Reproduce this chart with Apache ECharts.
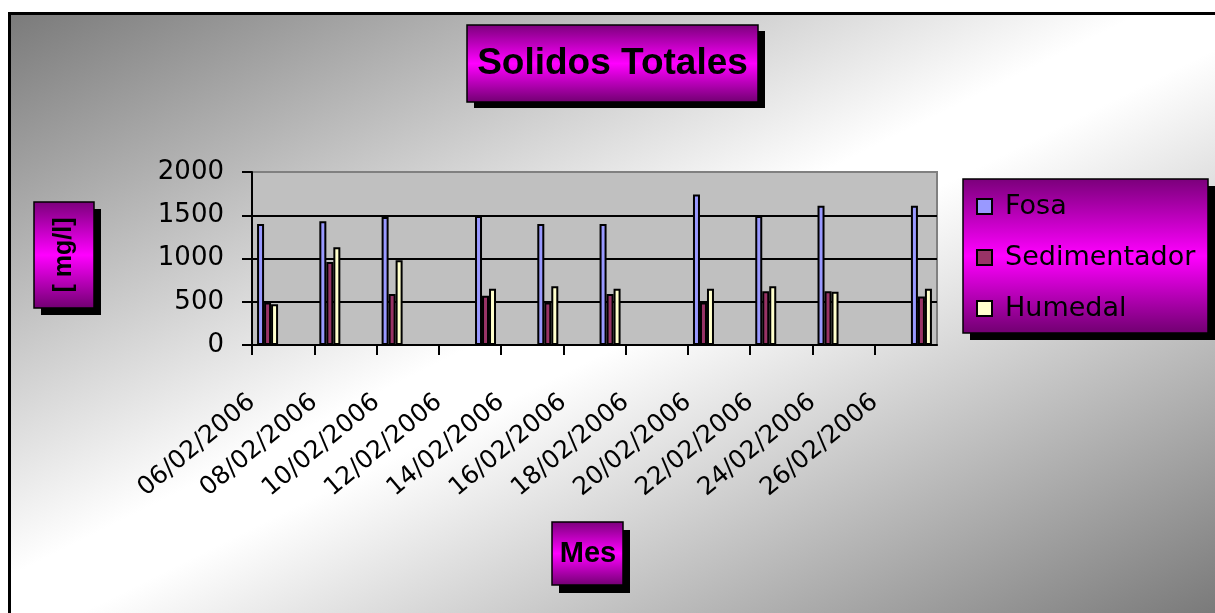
<!DOCTYPE html>
<html>
<head>
<meta charset="utf-8">
<title>Solidos Totales</title>
<script src="https://cdn.jsdelivr.net/npm/echarts@6/dist/echarts.min.js"></script>
<style>
  html, body { margin: 0; padding: 0; background: #fff; }
  #chart { width: 1215px; height: 613px; }
</style>
</head>
<body>
<div id="chart"></div>
<script>
// Sampling dates and measured total solids [mg/l]
const sampleDates = ['06/02/2006', '08/02/2006', '10/02/2006', '13/02/2006', '15/02/2006',
                     '17/02/2006', '20/02/2006', '22/02/2006', '24/02/2006', '27/02/2006'];
const fosa         = [1400, 1430, 1480, 1490, 1400, 1400, 1740, 1490, 1610, 1610];
const sedimentador = [490, 960, 590, 570, 490, 590, 490, 620, 620, 560];
const humedal      = [470, 1130, 980, 650, 680, 650, 650, 680, 615, 650];

// Date axis: one slot per day, labelled every two days
const axisStart = '06/02/2006';
const axisDays = 22;
const axisDates = ['06/02/2006', '08/02/2006', '10/02/2006', '12/02/2006', '14/02/2006', '16/02/2006',
                   '18/02/2006', '20/02/2006', '22/02/2006', '24/02/2006', '26/02/2006'];
const yTicks = [0, 500, 1000, 1500, 2000];

function parseDate(s) {
  const p = s.split('/').map(Number);
  return Date.UTC(p[2], p[1] - 1, p[0]);
}
const DAY = 86400000;
const t0 = parseDate(axisStart);
// centre of each day's slot on the value axis
const xPos = sampleDates.map(d => (parseDate(d) - t0) / DAY + 0.5);
const pairs = vals => vals.map((v, i) => [xPos[i], v]);

const magenta = {
  type: 'linear', x: 0, y: 0, x2: 0, y2: 1,
  colorStops: [
    { offset: 0, color: '#7a007a' },
    { offset: 0.5, color: '#ff00ff' },
    { offset: 1, color: '#700070' }
  ]
};

function box(x, y, w, h, dx, dy) {
  return [
    { type: 'rect', z: 1, shape: { x: x + dx, y: y + dy, width: w, height: h }, style: { fill: '#000' } },
    { type: 'rect', z: 2, shape: { x: x, y: y, width: w, height: h },
      style: { fill: magenta, stroke: '#000', lineWidth: 1.5 } }
  ];
}

const chart = echarts.init(document.getElementById('chart'), null, { renderer: 'canvas' });

const ax = 'DejaVu Sans';

chart.setOption({
  backgroundColor: '#ffffff',
  animation: false,
  graphic: [
    { type: 'rect', z: -1, shape: { x: 9.5, y: 13.5, width: 1230, height: 620 },
      style: {
        fill: {
          type: 'linear', global: true, x: 373, y: -168, x2: 851, y2: 794,
          colorStops: [
            { offset: 0, color: '#7a7a7a' },
            { offset: 0.47, color: '#ffffff' },
            { offset: 0.53, color: '#ffffff' },
            { offset: 1, color: '#7a7a7a' }
          ]
        },
        stroke: '#000', lineWidth: 3
      } },
    ...box(467, 25, 291, 77, 7, 6),
    { type: 'text', z: 3, x: 612.5, y: 63.5,
      style: { text: 'Solidos Totales', font: 'bold 37px "Liberation Sans"', fill: '#000',
               align: 'center', verticalAlign: 'middle' } },
    ...box(34, 202, 60, 106, 7, 7),
    { type: 'text', z: 3, x: 64, y: 255, rotation: Math.PI / 2,
      style: { text: '[ mg/l]', font: 'bold 25px "Liberation Sans"', fill: '#000',
               align: 'center', verticalAlign: 'middle' } },
    ...box(552, 522, 71, 63, 7, 8),
    { type: 'text', z: 3, x: 588, y: 553.5,
      style: { text: 'Mes', font: 'bold 29px "Liberation Sans"', fill: '#000',
               align: 'center', verticalAlign: 'middle' } },
    ...box(963, 179, 245, 154, 7, 7)
  ],
  legend: {
    z: 10,
    orient: 'vertical',
    left: 976,
    top: 193,
    padding: 0,
    itemGap: 24,
    itemWidth: 15,
    itemHeight: 15,
    icon: 'rect',
    textStyle: { fontFamily: ax, fontSize: 27, color: '#000', padding: [0, 0, 0, 8] },
    data: ['Fosa', 'Sedimentador', 'Humedal']
  },
  grid: {
    left: 252, right: 278, top: 172, bottom: 268,
    show: true, backgroundColor: '#c0c0c0', borderColor: '#808080', borderWidth: 2
  },
  xAxis: {
    type: 'value',
    min: 0, max: axisDays, interval: 2,
    axisLine: { lineStyle: { color: '#000', width: 2 } },
    axisTick: { show: true, length: 10, lineStyle: { color: '#000', width: 2 } },
    splitLine: { show: false },
    axisLabel: {
      rotate: 40, margin: 54,
      fontFamily: ax, fontSize: 25, color: '#000',
      showMaxLabel: false,
      formatter: v => axisDates[v / 2] || ''
    }
  },
  yAxis: {
    type: 'value',
    min: yTicks[0], max: yTicks[yTicks.length - 1], interval: yTicks[1] - yTicks[0],
    axisLine: { show: true, lineStyle: { color: '#000', width: 2 } },
    axisTick: { show: true, length: 10, lineStyle: { color: '#000', width: 2 } },
    splitLine: { show: true, lineStyle: { color: ['#000', '#000', '#000', '#000', '#808080'], width: 2 } },
    axisLabel: { margin: 28, fontFamily: ax, fontSize: 26, color: '#000', formatter: v => String(v) }
  },
  series: [
    { name: 'Fosa', type: 'bar', barWidth: 7, barGap: '0%', data: pairs(fosa),
      itemStyle: { color: '#9999ff', borderColor: '#000', borderWidth: 2 } },
    { name: 'Sedimentador', type: 'bar', barWidth: 7, barGap: '0%', data: pairs(sedimentador),
      itemStyle: { color: '#993366', borderColor: '#000', borderWidth: 2 } },
    { name: 'Humedal', type: 'bar', barWidth: 7, barGap: '0%', data: pairs(humedal),
      itemStyle: { color: '#ffffcc', borderColor: '#000', borderWidth: 2 } }
  ]
});
</script>
</body>
</html>
